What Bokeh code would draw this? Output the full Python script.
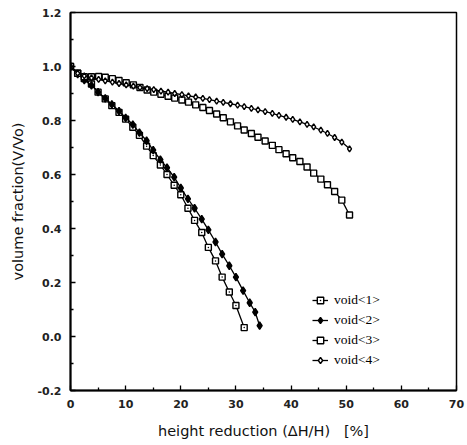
from bokeh.plotting import figure
from bokeh.models import FixedTicker, PrintfTickFormatter, Legend, Range1d
from bokeh.embed import file_html
from bokeh.resources import INLINE

# ---- data ----
x1 = [0, 1.3, 2.5, 3.8, 5.0, 6.3, 7.5, 8.8, 10.0, 11.3, 12.5, 13.8, 15.0, 16.3, 17.5,
      18.8, 20.0, 21.3, 22.5, 23.8, 25.0, 26.3, 27.5, 28.8, 30.0, 31.5]
v1 = [1.0, 0.975, 0.955, 0.935, 0.905, 0.88, 0.855, 0.83, 0.805, 0.775, 0.745, 0.705,
      0.67, 0.635, 0.6, 0.56, 0.525, 0.475, 0.43, 0.385, 0.33, 0.28, 0.22, 0.165, 0.115, 0.033]

x2 = [0, 1.3, 2.5, 3.8, 5.0, 6.3, 7.5, 8.8, 10.0, 11.3, 12.5, 13.8, 15.0, 16.3, 17.5,
      18.8, 20.0, 21.3, 22.5, 23.8, 25.0, 26.3, 27.5, 28.8, 30.0, 31.3, 32.5, 33.5, 34.3]
v2 = [1.0, 0.972, 0.95, 0.93, 0.905, 0.882, 0.86, 0.835, 0.81, 0.785, 0.755, 0.725,
      0.69, 0.655, 0.625, 0.59, 0.55, 0.51, 0.475, 0.435, 0.395, 0.35, 0.305, 0.262,
      0.22, 0.17, 0.125, 0.09, 0.04]

x3 = [0, 1.3, 2.5, 3.8, 5.1, 6.3, 7.6, 8.8, 10.1, 11.4, 12.6, 13.9, 15.1, 16.4, 17.7,
      18.9, 20.2, 21.4, 22.7, 24.0, 25.2, 26.5, 27.7, 29.0, 30.3, 31.5, 32.8, 34.0, 35.3,
      36.6, 37.8, 39.1, 40.3, 41.6, 42.9, 44.1, 45.4, 46.6, 47.9, 49.2, 50.6]
v3 = [1.0, 0.975, 0.962, 0.962, 0.963, 0.96, 0.955, 0.948, 0.94, 0.932, 0.922, 0.913,
      0.905, 0.897, 0.89, 0.883, 0.876, 0.868, 0.858, 0.848, 0.837, 0.824, 0.81, 0.795,
      0.78, 0.765, 0.752, 0.738, 0.724, 0.708, 0.692, 0.677, 0.662, 0.648, 0.628, 0.605,
      0.583, 0.562, 0.537, 0.505, 0.45]

x4 = [0, 1.3, 2.5, 3.8, 5.1, 6.3, 7.6, 8.8, 10.1, 11.4, 12.6, 13.9, 15.1, 16.4, 17.7,
      18.9, 20.2, 21.4, 22.7, 24.0, 25.2, 26.5, 27.7, 29.0, 30.3, 31.5, 32.8, 34.0, 35.3,
      36.6, 37.8, 39.1, 40.3, 41.6, 42.9, 44.1, 45.4, 46.6, 47.9, 49.2, 50.6]
v4 = [1.0, 0.975, 0.965, 0.958, 0.952, 0.947, 0.942, 0.937, 0.932, 0.927, 0.922, 0.918,
      0.914, 0.909, 0.905, 0.9, 0.896, 0.891, 0.887, 0.882, 0.877, 0.872, 0.867, 0.862,
      0.857, 0.851, 0.845, 0.839, 0.833, 0.826, 0.819, 0.812, 0.804, 0.795, 0.786, 0.776,
      0.764, 0.752, 0.737, 0.72, 0.695]

x_ticks = [0, 10, 20, 30, 40, 50, 60, 70]
x_minor = [5, 15, 25, 35, 45, 55, 65]
y_ticks = [-0.2, 0.0, 0.2, 0.4, 0.6, 0.8, 1.0, 1.2]
y_minor = [-0.1, 0.1, 0.3, 0.5, 0.7, 0.9, 1.1]
labels = ["void<1>", "void<2>", "void<3>", "void<4>"]

p = figure(width=467, height=445, output_backend="svg", toolbar_location=None,
           x_range=Range1d(0, 70), y_range=Range1d(-0.2, 1.2),
           min_border_left=70, min_border_right=11, min_border_top=12, min_border_bottom=55)
p.background_fill_color = "white"
p.border_fill_color = "white"
p.grid.visible = False
p.outline_line_color = "black"
p.outline_line_width = 1.5

FONT = "DejaVu Sans"
for ax in (p.xaxis[0], p.yaxis[0]):
    ax.axis_line_width = 2
    ax.major_tick_in = 5
    ax.major_tick_out = 0
    ax.minor_tick_in = 3
    ax.minor_tick_out = 0
    ax.major_tick_line_width = 1.3
    ax.minor_tick_line_width = 1.3
    ax.major_label_text_font = FONT
    ax.major_label_text_font_size = "11px"
    ax.major_label_text_font_style = "bold"
    ax.major_label_text_color = "#222222"
    ax.axis_label_text_font = FONT
    ax.axis_label_text_font_size = "14.5px"
    ax.axis_label_text_font_style = "normal"
    ax.axis_label_text_color = "#111111"

p.xaxis.ticker = FixedTicker(ticks=x_ticks, minor_ticks=x_minor)
p.yaxis.ticker = FixedTicker(ticks=y_ticks, minor_ticks=y_minor)
p.yaxis.formatter = PrintfTickFormatter(format="%.1f")
p.xaxis.major_label_standoff = 9
p.yaxis.major_label_standoff = 9
p.xaxis.axis_label = "height reduction (\u0394H/H)\u00a0\u00a0\u00a0[%]"
p.yaxis.axis_label = "volume fraction(V/Vo)"
p.xaxis.axis_label_standoff = 12
p.yaxis.axis_label_standoff = 8

items = []
series = [
    (x1, v1, "square_dot", "white", 6),
    (x2, v2, "diamond", "black", 7.5),
    (x3, v3, "square", "white", 6),
    (x4, v4, "diamond", "white", 6),
]
for (xs, vs, mk, fill, sz), lab in zip(series, labels):
    l = p.line(xs, vs, line_color="black", line_width=1.3)
    s = p.scatter(xs, vs, marker=mk, size=sz, fill_color=fill, line_color="black",
                  line_width=1.4)
    items.append((lab, [l, s]))

legend = Legend(items=items, location=(242, 20), orientation="vertical")
legend.border_line_color = None
legend.background_fill_alpha = 0
legend.label_text_font = "Liberation Serif"
legend.label_text_font_size = "13.5px"
legend.label_text_color = "black"
legend.label_height = 20
legend.glyph_height = 20
legend.glyph_width = 16
legend.spacing = 0
legend.padding = 0
legend.margin = 0
legend.label_standoff = 6
p.add_layout(legend, "center")

open("out.html", "w").write(file_html(p, INLINE))
